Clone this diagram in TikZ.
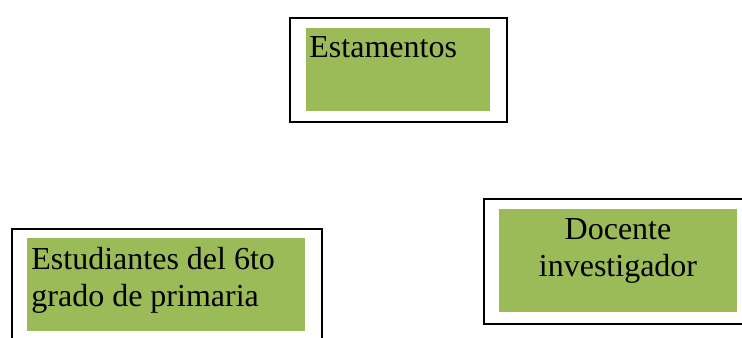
\documentclass[tikz,border=0pt]{standalone}
\usepackage{fontspec}
\setmainfont{Liberation Serif}
\usetikzlibrary{positioning}
\definecolor{leaf}{RGB}{155,187,89}

\begin{document}
\begin{tikzpicture}[
    x=0.5pt, y=-0.5pt,
    frame/.style={draw, line width=1pt, inner sep=0pt, anchor=north west},
    fillbox/.style={fill=leaf, inner sep=0pt, anchor=north west},
    boxtext/.style={font=\fontsize{16}{18.5}\selectfont, inner sep=0pt}
]
\clip (0,0) rectangle (742,337);

% Outer frames
\node (F1) [frame, minimum width=108.5pt, minimum height=52pt] at (289,17) {};
\node (F2) [frame, minimum width=155pt, minimum height=60pt] at (11,228) {};
\node (F3) [frame, minimum width=140pt, minimum height=62.5pt] at (483,198) {};

% Green boxes
\node (G1) [fillbox, minimum width=92pt, minimum height=41.5pt] at (306,28) {};
\node (G2) [fillbox, minimum width=139pt, minimum height=46.5pt] at (27,238) {};
\node (G3) [fillbox, minimum width=119pt, minimum height=51.5pt] at (499,209) {};

% Texts (base = last line)
\node (T1) [boxtext, anchor=base west] at (309,57) {Estamentos};
\node (T2) [boxtext, anchor=base west, align=left] at (31,306) {Estudiantes del 6to\\grado de primaria};
\node (T3) [boxtext, anchor=base, align=center] at (618,276) {Docente\\investigador};

\end{tikzpicture}
\end{document}
